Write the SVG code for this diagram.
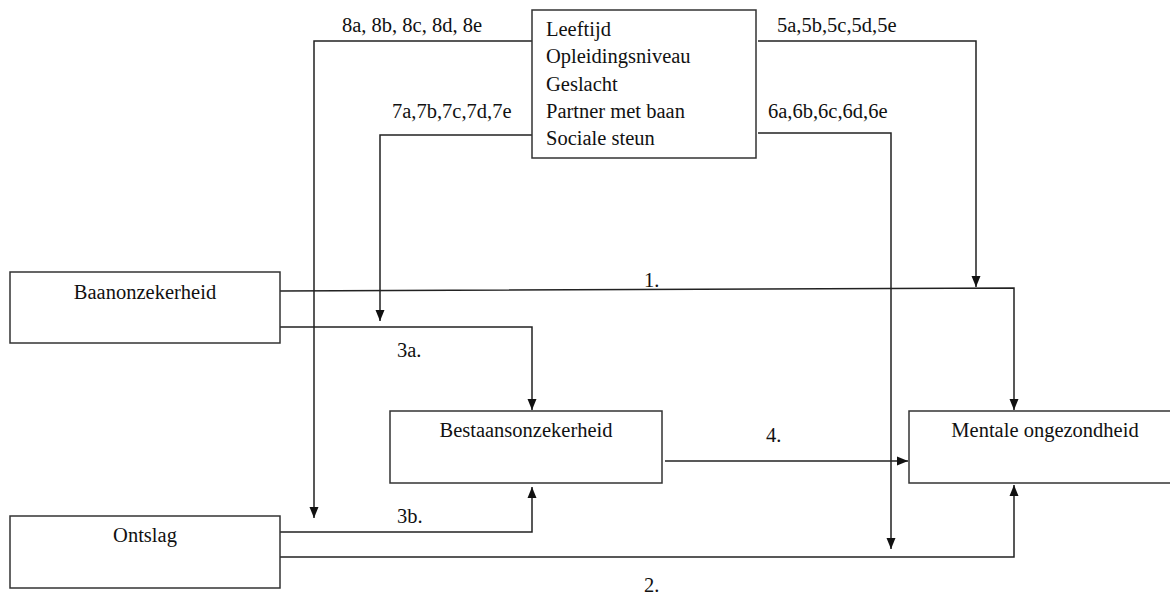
<svg xmlns="http://www.w3.org/2000/svg" width="1170" height="597" viewBox="0 0 1170 597">
<style>
.box{fill:#fff;stroke:#333;stroke-width:1.5}
.t{font-family:"Liberation Serif","Times New Roman",serif;font-size:20.5px;fill:#111}
.m{text-anchor:middle}
.c{fill:none;stroke:#222;stroke-width:1.5}
</style>
<defs>
<marker id="ah" markerUnits="userSpaceOnUse" markerWidth="12" markerHeight="12" viewBox="0 0 12 12" refX="11" refY="6" orient="auto">
<path d="M0,1.5 L11,6 L0,10.5 Z" fill="#111"/>
</marker>
</defs>
<g id="connectors">
<path class="c" d="M532,41 H314 V518" marker-end="url(#ah)"/>
<path class="c" d="M532,135 H380 V321" marker-end="url(#ah)"/>
<path class="c" d="M758,41 H976 V287" marker-end="url(#ah)"/>
<path class="c" d="M758,133 H891 V549" marker-end="url(#ah)"/>
<path class="c" d="M280,291 L1014,288 V410" marker-end="url(#ah)"/>
<path class="c" d="M280,327 H532 V410" marker-end="url(#ah)"/>
<path class="c" d="M280,532 H532 V487" marker-end="url(#ah)"/>
<path class="c" d="M280,557 H1014 V485" marker-end="url(#ah)"/>
<path class="c" d="M665,461 H908" marker-end="url(#ah)"/>
<text class="t" x="342" y="32">8a, 8b, 8c, 8d, 8e</text>
<text class="t" x="392" y="118">7a,7b,7c,7d,7e</text>
<text class="t" x="777" y="32">5a,5b,5c,5d,5e</text>
<text class="t" x="768" y="118">6a,6b,6c,6d,6e</text>
<text class="t" x="644" y="287">1.</text>
<text class="t" x="397" y="357">3a.</text>
<text class="t" x="397" y="523">3b.</text>
<text class="t" x="766" y="442">4.</text>
<text class="t" x="644" y="592">2.</text>
</g>
<g id="controls">
<rect class="box" x="532" y="10" width="224" height="148"/>
<text class="t" x="546" y="36">Leeftijd</text>
<text class="t" x="546" y="63">Opleidingsniveau</text>
<text class="t" x="546" y="91">Geslacht</text>
<text class="t" x="546" y="118">Partner met baan</text>
<text class="t" x="546" y="145">Sociale steun</text>
</g>
<g id="baanonzekerheid">
<rect class="box" x="10" y="272" width="270" height="71"/>
<text class="t m" x="145" y="299">Baanonzekerheid</text>
</g>
<g id="ontslag">
<rect class="box" x="10" y="516" width="270" height="72"/>
<text class="t m" x="145" y="542">Ontslag</text>
</g>
<g id="bestaansonzekerheid">
<rect class="box" x="390" y="411" width="272" height="72"/>
<text class="t m" x="526" y="437">Bestaansonzekerheid</text>
</g>
<g id="mentale">
<rect class="box" x="909" y="411" width="262" height="72"/>
<text class="t m" x="1045" y="437">Mentale ongezondheid</text>
</g>
</svg>
